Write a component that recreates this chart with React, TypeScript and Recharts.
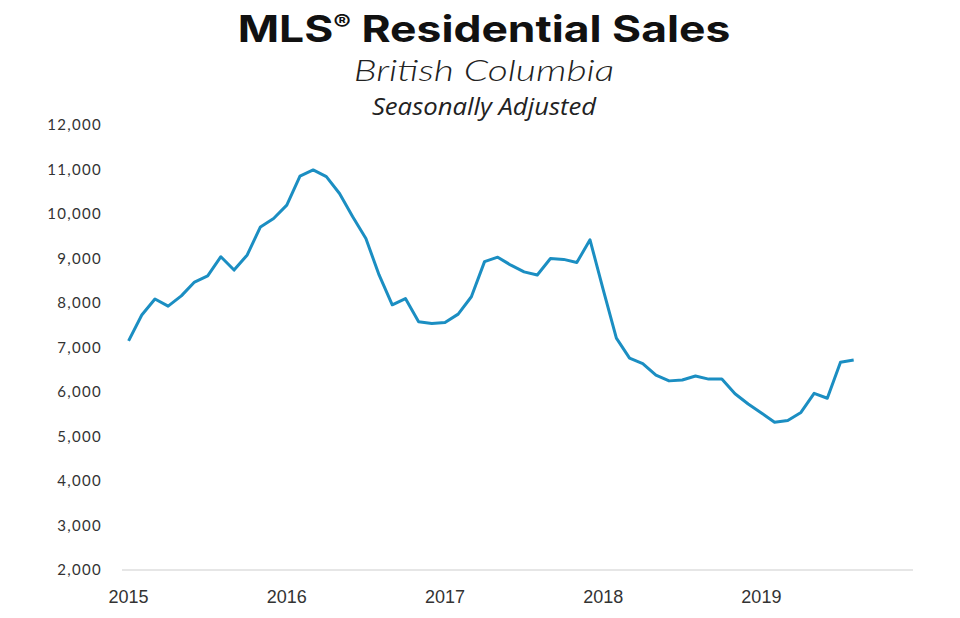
import React from "react";
import { Line, LineChart, XAxis, YAxis } from "recharts";

// monthly sales, Jan 2015 .. Aug 2019 (seasonally adjusted units)
const sales = [
  7150, 7730, 8090, 7930, 8160, 8470, 8610, 9040, 8740, 9080, 9710, 9900,
  10200, 10850, 10990, 10840, 10460, 9940, 9450, 8630, 7960, 8100, 7580, 7540,
  7560, 7750, 8140, 8930, 9030, 8850, 8700, 8630, 9000, 8980, 8910, 9420,
  8300, 7210, 6760, 6640, 6380, 6250, 6270, 6360, 6290, 6290, 5960, 5730,
  5530, 5320, 5360, 5540, 5970, 5860, 6670, 6720,
];

const years = ["2015", "2016", "2017", "2018", "2019"];
const monthNames = ["Jan", "Feb", "Mar", "Apr", "May", "Jun", "Jul", "Aug", "Sep", "Oct", "Nov", "Dec"];
const yTicks = [2000, 3000, 4000, 5000, 6000, 7000, 8000, 9000, 10000, 11000, 12000];
const xTicks = [0, 12, 24, 36, 48];

const data = sales.map((v, i) => ({
  i,
  month: `${monthNames[i % 12]} ${years[Math.floor(i / 12)]}`,
  sales: v,
}));

const titleStyle: React.CSSProperties = {
  position: "absolute",
  left: 4,
  width: 960,
  textAlign: "center",
  color: "#111",
  lineHeight: "normal",
  whiteSpace: "nowrap",
};

export default function App() {
  return (
    <div style={{ position: "relative", width: 960, height: 618, margin: -8, background: "#fff" }}>
      <div
        style={{
          ...titleStyle,
          top: 6,
          fontFamily: "Inter, sans-serif",
          fontWeight: 700,
          fontSize: 37,
          transform: "scaleX(1.2)",
        }}
      >
        MLS<span style={{ fontSize: "0.6em", verticalAlign: "0.55em" }}>®</span> Residential Sales
      </div>
      <div
        style={{
          ...titleStyle,
          top: 51,
          fontFamily: "Lato, sans-serif",
          fontStyle: "italic",
          fontWeight: 300,
          fontSize: 30,
          color: "#222",
          transform: "scaleX(1.3)",
        }}
      >
        British Columbia
      </div>
      <div
        style={{
          ...titleStyle,
          top: 89,
          fontFamily: "'Open Sans', sans-serif",
          fontStyle: "italic",
          fontSize: 24,
          color: "#222",
          transform: "scaleX(1.07)",
        }}
      >
        Seasonally Adjusted
      </div>
      <LineChart
        width={960}
        height={618}
        data={data}
        margin={{ top: 125, right: 47, left: 0, bottom: 18 }}
      >
        <XAxis
          dataKey="i"
          type="number"
          domain={[-0.5, 59.5]}
          ticks={xTicks}
          tickFormatter={(v) => years[v / 12]}
          axisLine={{ stroke: "#e6e6e6", strokeWidth: 2 }}
          tickLine={false}
          tickSize={0}
          tickMargin={20}
          height={30}
          tick={{ fill: "#333", fontSize: 18, fontFamily: "'Liberation Sans', sans-serif" }}
        />
        <YAxis
          type="number"
          domain={[2000, 12000]}
          ticks={yTicks}
          tickFormatter={(v) => v.toLocaleString("en-US")}
          axisLine={false}
          tickLine={false}
          tickSize={0}
          tickMargin={20}
          width={122}
          tick={{ fill: "#333", fontSize: 15, fontFamily: "Lato, sans-serif", letterSpacing: 1.3 }}
        />
        <Line
          type="linear"
          dataKey="sales"
          stroke="#1b8ec2"
          strokeWidth={3}
          strokeLinejoin="round"
          dot={false}
          isAnimationActive={false}
        />
      </LineChart>
    </div>
  );
}
